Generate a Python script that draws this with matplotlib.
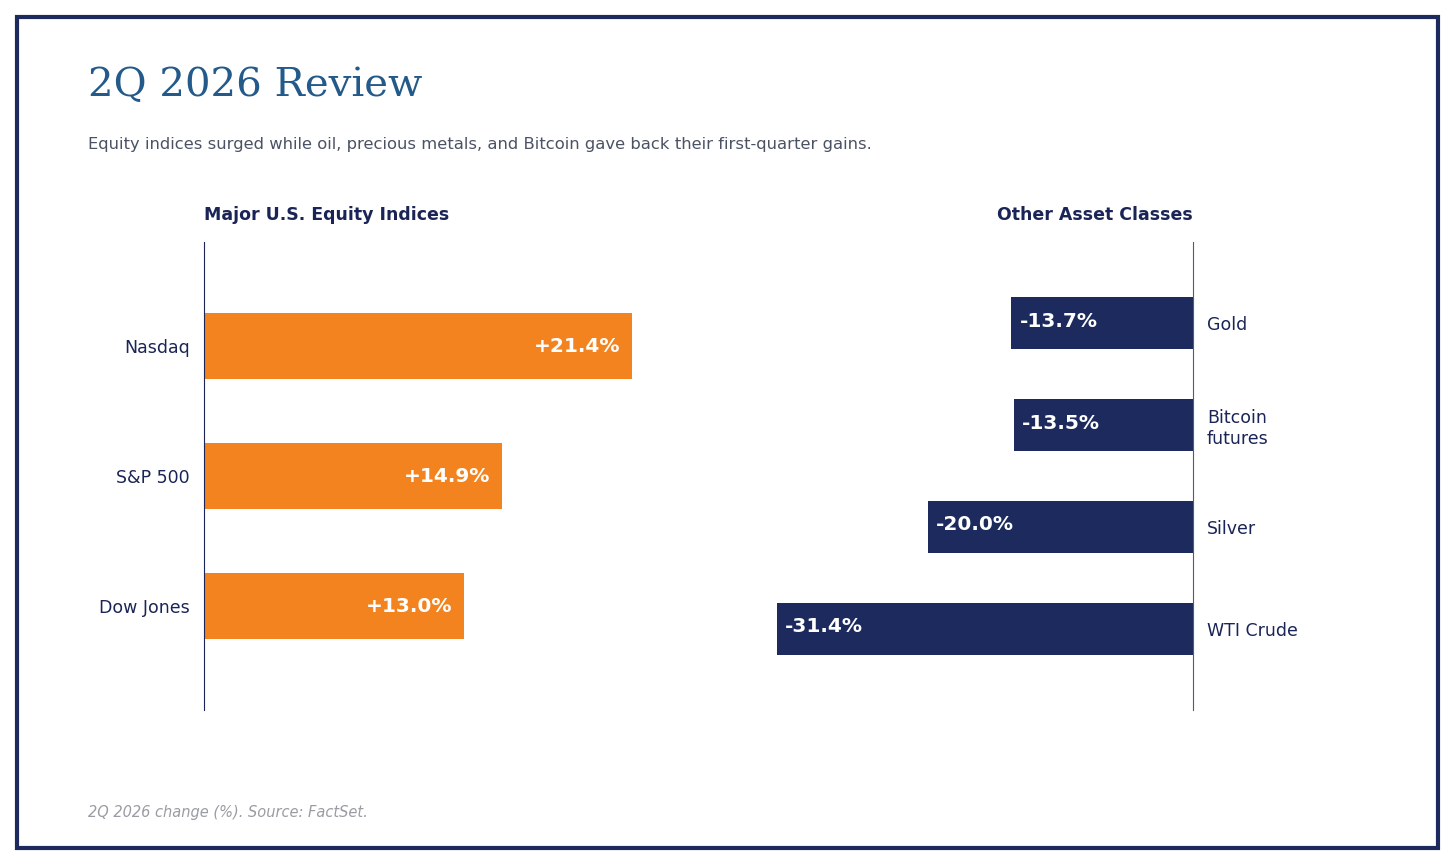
import matplotlib.pyplot as plt
from matplotlib.patches import Rectangle

# data
eq_names = ["Nasdaq", "S&P 500", "Dow Jones"]
eq_vals = [21.4, 14.9, 13.0]
oth_names = ["Gold", "Bitcoin\nfutures", "Silver", "WTI Crude"]
oth_vals = [-13.7, -13.5, -20.0, -31.4]

W, H = 1456, 866
navy = "#1c2a5e"
orange = "#f3831f"
fig = plt.figure(figsize=(W / 100, H / 100), dpi=100)

def px_axes(x0, y0, x1, y1):
    return fig.add_axes([x0 / W, 1 - y1 / H, (x1 - x0) / W, (y1 - y0) / H])

fig.patches.append(Rectangle((17 / W, 1 - 848 / H), 1421 / W, 831 / H, transform=fig.transFigure,
                             fill=False, edgecolor=navy, lw=3))
fig.text(88 / W, 1 - 85 / H, "2Q 2026 Review", family="DejaVu Serif", fontsize=29,
         color="#235a8a", va="center")
fig.text(88 / W, 1 - 145 / H,
         "Equity indices surged while oil, precious metals, and Bitcoin gave back their first-quarter gains.",
         fontsize=11.8, color="#4a5263", va="center")
fig.text(88 / W, 1 - 813 / H, "2Q 2026 change (%). Source: FactSet.", fontsize=10.5,
         style="italic", color="#9a9ca3", va="center")

# left: equities
ax = px_axes(204, 242, 704, 710)
ax.barh(range(len(eq_vals)), eq_vals, height=0.51, color=orange)
ax.set_xlim(0, 25)
ax.set_ylim(2.8, -0.8)
ax.set_yticks(range(len(eq_names)))
ax.set_yticklabels(eq_names, fontsize=12.5, color="#1a2456")
ax.tick_params(length=0, pad=10)
ax.set_xticks([])
for s in ["top", "right", "bottom"]:
    ax.spines[s].set_visible(False)
ax.spines["left"].set_color("#1a2456")
for i, v in enumerate(eq_vals):
    ax.text(v - 0.6, i, "+%.1f%%" % v, color="white", fontweight="bold", fontsize=14.5,
            ha="right", va="center")
ax.set_title("Major U.S. Equity Indices", loc="left", fontsize=12.5, fontweight="bold",
             color="#1a2456", pad=16)

# right: other assets
ax2 = px_axes(700, 242, 1193, 710)
ax2.barh(range(len(oth_vals)), oth_vals, height=0.51, color=navy)
ax2.set_xlim(-493 / 13.25, 0)
ax2.set_ylim(3.8, -0.8)
ax2.set_xticks([])
ax2.set_yticks(range(len(oth_names)))
ax2.set_yticklabels(oth_names, fontsize=12.5, color="#1a2456", ha="left")
ax2.yaxis.tick_right()
ax2.tick_params(length=0, pad=10)
for s in ["top", "left", "bottom"]:
    ax2.spines[s].set_visible(False)
ax2.spines["right"].set_color("#555a6e")
for i, v in enumerate(oth_vals):
    ax2.text(v + 0.6, i - 0.02, "%.1f%%" % v, color="white", fontweight="bold", fontsize=14.5,
             ha="left", va="center")
ax2.set_title("Other Asset Classes", loc="right", fontsize=12.5, fontweight="bold",
              color="#1a2456", pad=16)

fig.savefig("out.png", dpi=100)
